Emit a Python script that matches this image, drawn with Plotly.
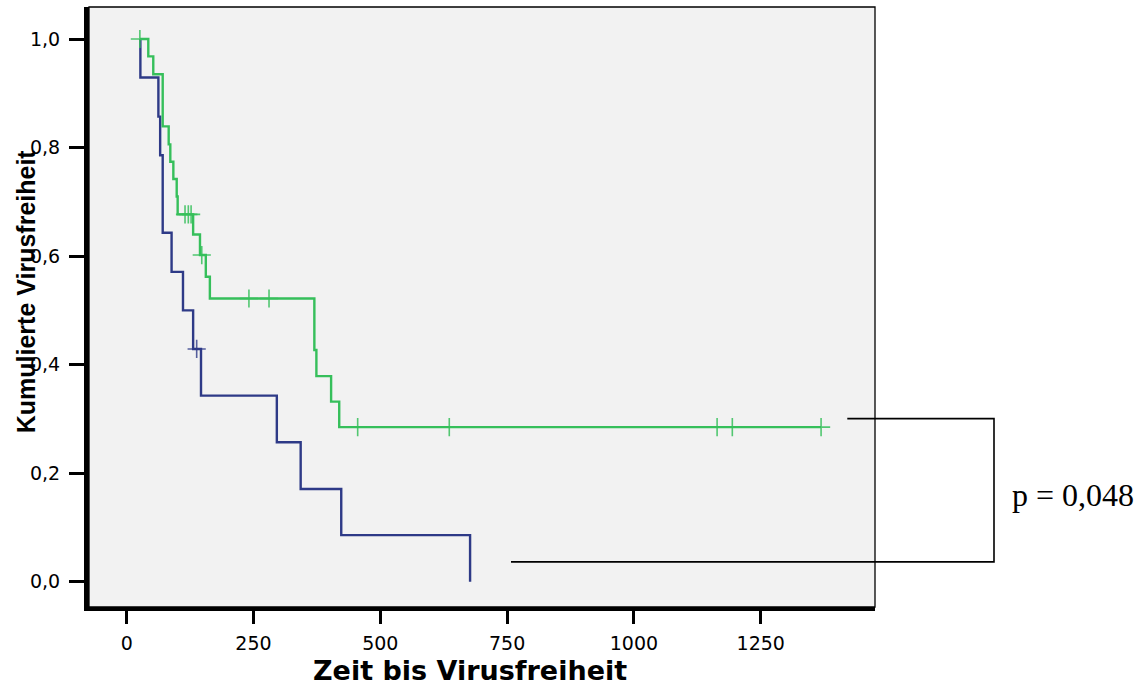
import plotly.graph_objects as go

# ---- data (Kaplan-Meier step curves) ----
blue_times = [27, 27, 62.5, 66, 71, 88.5, 111, 131, 146.5, 296, 343, 423, 677]
blue_surv = [1.0, 0.929, 0.857, 0.786, 0.643, 0.571, 0.5, 0.429, 0.343, 0.257, 0.171, 0.086, 0.0]
blue_cens_times = [138]
blue_cens_surv = [0.429]

green_times = [26, 42.6, 52.4, 71, 82.8, 86, 92, 98.6, 100.5, 131, 144.5, 156, 164,
               370, 374, 403, 419, 1369]
green_surv = [1.0, 0.968, 0.935, 0.839, 0.806, 0.774, 0.742, 0.710, 0.677, 0.640, 0.602,
              0.562, 0.522, 0.427, 0.379, 0.332, 0.285, 0.285]
green_cens_times = [26, 115, 121.5, 127, 148, 241, 280.6, 455.4, 636, 1164, 1194, 1369]
green_cens_surv = [1.0, 0.677, 0.677, 0.677, 0.602, 0.522, 0.522, 0.285, 0.285, 0.285, 0.285, 0.285]

x_ticks = [0, 250, 500, 750, 1000, 1250]
y_ticks = [0.0, 0.2, 0.4, 0.6, 0.8, 1.0]
y_ticktext = ["0,0", "0,2", "0,4", "0,6", "0,8", "1,0"]

x_title = "Zeit bis Virusfreiheit"
y_title = "Kumulierte Virusfreiheit"
p_text = "p = 0,048"

BLUE = "#2e3a87"
GREEN = "#36bf5b"

fig = go.Figure()
fig.add_trace(go.Scatter(x=blue_times, y=blue_surv, mode="lines", line_shape="hv",
                         line=dict(color=BLUE, width=2.4), hoverinfo="skip"))
fig.add_trace(go.Scatter(x=blue_cens_times, y=blue_cens_surv, mode="markers",
                         marker=dict(symbol="cross-thin", size=13,
                                     line=dict(color="rgba(46,58,135,0.8)", width=1.6)),
                         hoverinfo="skip"))
fig.add_trace(go.Scatter(x=green_times, y=green_surv, mode="lines", line_shape="hv",
                         line=dict(color=GREEN, width=2.4), hoverinfo="skip"))
fig.add_trace(go.Scatter(x=green_cens_times, y=green_cens_surv, mode="markers",
                         marker=dict(symbol="cross-thin", size=13,
                                     line=dict(color="rgba(54,191,91,0.85)", width=1.6)),
                         hoverinfo="skip"))

L, R_EDGE, T, B_EDGE = 89, 875, 7, 607.5
W, H = 1141, 688
pw = R_EDGE - L
ph = B_EDGE - T


def px(xp):
    return (xp - L) / pw


def py(yp):
    return (B_EDGE - yp) / ph


tick_font = dict(family="DejaVu Sans, Liberation Sans, Arial", size=19, color="black")

fig.update_layout(
    width=W, height=H,
    margin=dict(l=L, r=W - R_EDGE, t=T, b=H - B_EDGE),
    paper_bgcolor="white",
    plot_bgcolor="#f2f2f2",
    showlegend=False,
    xaxis=dict(range=[-74.3, 1475.3], tickvals=x_ticks, ticktext=[str(v) for v in x_ticks],
               ticks="outside", ticklen=13, tickwidth=3, tickcolor="black",
               showline=True, linewidth=4, linecolor="black", mirror=False,
               showgrid=False, zeroline=False, tickfont=tick_font, ticklabelstandoff=3),
    yaxis=dict(range=[-0.0464, 1.059], tickvals=y_ticks, ticktext=y_ticktext,
               ticks="outside", ticklen=15, tickwidth=3, tickcolor="black",
               showline=True, linewidth=5, linecolor="black", mirror=False,
               showgrid=False, zeroline=False, tickfont=tick_font, ticklabelstandoff=5),
    shapes=[
        dict(type="rect", xref="paper", yref="paper", x0=0, x1=1, y0=0, y1=1,
             line=dict(color="black", width=1.3), layer="above"),
        dict(type="path", xref="paper", yref="paper",
             path=f"M {px(847.3)},{py(419)} L {px(994)},{py(419)} L {px(994)},{py(562.3)} L {px(511)},{py(562.3)}",
             line=dict(color="black", width=1.6)),
    ],
    annotations=[
        dict(text=f"<b>{x_title}</b>", xref="paper", yref="paper",
             x=px(470), y=py(671), xanchor="center", yanchor="middle", showarrow=False,
             font=dict(family="DejaVu Sans, Liberation Sans, Arial", size=27, color="black")),
        dict(text=f"<b>{y_title}</b>", xref="paper", yref="paper", textangle=-90,
             x=px(26), y=py(291.5), xanchor="center", yanchor="middle", showarrow=False,
             font=dict(family="Liberation Sans, Arial", size=25, color="black")),
        dict(text=p_text, xref="paper", yref="paper",
             x=px(1010), y=py(495), xanchor="left", yanchor="middle", showarrow=False,
             font=dict(family="Liberation Serif, Times New Roman, serif", size=32, color="black")),
    ],
)

fig.write_html("out.html", config={"displayModeBar": False},
               post_script="document.body.style.margin='0';")
